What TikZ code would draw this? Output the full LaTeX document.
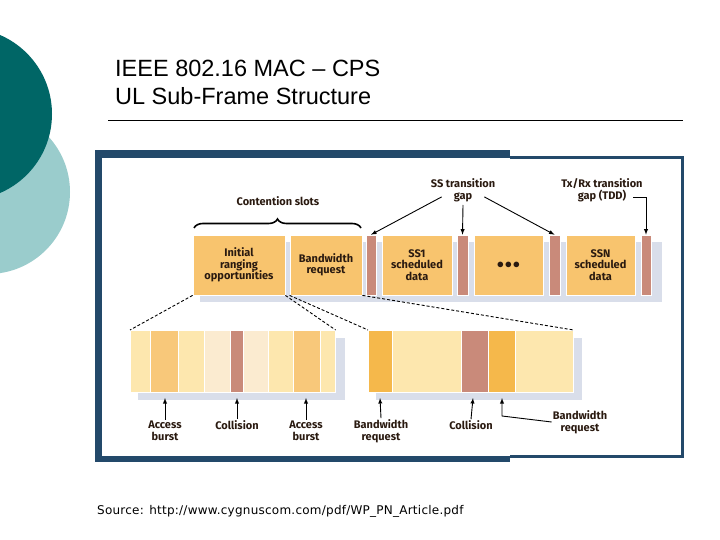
\documentclass[tikz,border=0pt]{standalone}
\usepackage{fontspec}
\setmainfont{Liberation Sans}
\newfontfamily\lab{Fira Sans}
\newfontfamily\srcf{DejaVu Sans}
\usetikzlibrary{decorations.pathreplacing}
\definecolor{frameblue}{HTML}{23496A}
\definecolor{teal1}{HTML}{006666}
\definecolor{teal2}{HTML}{9ACCCC}
\definecolor{boxor}{HTML}{F8C46E}
\definecolor{gapbr}{HTML}{C98A7A}
\definecolor{shad}{HTML}{D9DEEA}
\definecolor{lite}{HTML}{FDE7AE}
\definecolor{med}{HTML}{F8C87A}
\definecolor{pale}{HTML}{FBEBD0}
\definecolor{orng}{HTML}{F5B84B}
\definecolor{txt}{HTML}{2A1A10}
\tikzset{
  box/.style={draw=white,line width=0.8pt,fill=boxor,minimum height=60pt,inner sep=0pt,align=center,text=txt,font=\lab\bfseries\fontsize{11}{11.5}\selectfont},
  gap/.style={draw=white,line width=0.6pt,fill=gapbr,minimum height=60pt,inner sep=0pt},
  lbl/.style={font=\lab\bfseries\fontsize{11}{12}\selectfont,text=txt,align=center,inner sep=1pt},
  arr/.style={-latex,line width=0.9pt},
  dsh/.style={densely dashed,line width=0.9pt}
}
\begin{document}
\begin{tikzpicture}[x=1pt,y=-1pt]
\useasboundingbox (0,0) rectangle (720,540);
\fill[white] (0,0) rectangle (720,540);
% decorations
\fill[teal2] (-12,192) circle (82);
\fill[teal1] (-34,114) circle (86);
% title
\node[anchor=base west,font=\fontsize{23.5}{23.5}\selectfont,inner sep=0] (t1) at (115,77) {IEEE 802.16 MAC – CPS};
\node[anchor=base west,font=\fontsize{23.5}{23.5}\selectfont,inner sep=0] (t2) at (115,105) {UL Sub-Frame Structure};
\draw[line width=0.6pt] (108,120) -- (683,120);
% frame
\draw[frameblue,line width=3pt] (510,158) -- (682,158) -- (682,456) -- (510,456);
\fill[frameblue] (95,150) rectangle (510,158);
\fill[frameblue] (95,150) rectangle (102,462);
\fill[frameblue] (95,456) rectangle (510,462);
% top row shadow
\fill[shad] (200,242) rectangle (662,302);
\node[box,minimum width=92pt] (ir) at (239,265) {Initial\\ranging\\opportunities};
\node[box,minimum width=72pt] (bw) at (326,265) {Bandwidth\\request};
\node[gap,minimum width=10pt] (g1) at (371,265) {};
\node[box,minimum width=70pt] (ss1) at (417,265) {SS1\\scheduled\\data};
\node[gap,minimum width=11pt] (g2) at (462.5,265) {};
\node[box,minimum width=69pt] (dots) at (508.5,265) {\fontsize{14}{14}\selectfont$\bullet\!\bullet\!\bullet$};
\node[gap,minimum width=11pt] (g3) at (554.5,265) {};
\node[box,minimum width=69pt] (ssn) at (600.5,265) {SSN\\scheduled\\data};
\node[gap,minimum width=10pt] (g4) at (646,265) {};
% brace
\draw[decorate,decoration={brace,amplitude=9pt},line width=1.6pt] (194,228) -- (361,228);
\node[lbl] (cs) at (278,201) {Contention slots};
\node[lbl] (sstg) at (463,190) {SS transition\\gap};
\node[lbl] (txrx) at (602,190) {Tx/Rx transition\\gap (TDD)};
\draw[arr] (sstg.south west) ++(12,-6) -- (g1.north);
\draw[arr] (463,205) -- (g2.north);
\draw[arr] (sstg.south east) ++(-12,-6) -- (g3.north);
\draw[line width=0.9pt,-latex] (633,197) -- (646,197) -- (g4.north);
% bottom bars shadows
\fill[shad] (138,338) rectangle (345,400);
\fill[shad] (376,338) rectangle (582,400);
\begin{scope}[every node/.style={draw=white,line width=0.6pt,minimum height=62pt,inner sep=0pt,anchor=north west}]
\node[fill=lite,minimum width=20pt] (a1) at (130,330) {};
\node[fill=med,minimum width=28pt] (a2) at (150,330) {};
\node[fill=lite,minimum width=26pt] (a3) at (178,330) {};
\node[fill=pale,minimum width=26pt] (a4) at (204,330) {};
\node[fill=gapbr,minimum width=13pt] (a5) at (230,330) {};
\node[fill=pale,minimum width=25pt] (a6) at (243,330) {};
\node[fill=lite,minimum width=25pt] (a7) at (268,330) {};
\node[fill=med,minimum width=27pt] (a8) at (293,330) {};
\node[fill=lite,minimum width=15pt] (a9) at (320,330) {};
\node[fill=orng,minimum width=24pt] (b1) at (368,330) {};
\node[fill=lite,minimum width=69pt] (b2) at (392,330) {};
\node[fill=gapbr,minimum width=27pt] (b3) at (461,330) {};
\node[fill=orng,minimum width=27pt] (b4) at (488,330) {};
\node[fill=lite,minimum width=58pt] (b5) at (515,330) {};
\end{scope}
% dashed connectors
\draw[dsh] (ir.south west) -- (a1.north west);
\draw[dsh] (ir.south east) -- (a9.north east);
\draw[dsh] (bw.south west) -- (b1.north west);
\draw[dsh] (bw.south east) -- (b5.north east);
% labels
\node[lbl] (l1) at (165,431) {Access\\burst};
\node[lbl] (l2) at (237,425) {Collision};
\node[lbl] (l3) at (306,431) {Access\\burst};
\node[lbl] (l4) at (381,431) {Bandwidth\\request};
\node[lbl] (l5) at (471,425) {Collision};
\node[lbl] (l6) at (580,422) {Bandwidth\\request};
\draw[arr] (l1.north) -- (165,398);
\draw[arr] (l2.north) -- (237,398);
\draw[arr] (l3.north) -- (306,398);
\draw[arr] (l4.north) -- (380,398);
\draw[arr] (l5.north) -- (473,398);
\coordinate (bc) at (502,416);
\draw[arr] (l6.west) -- (bc) -- (502,398);
% source
\node[anchor=base west,font=\srcf\fontsize{12}{12}\selectfont\addfontfeature{LetterSpace=2},inner sep=0] (src) at (97,514) {Source: http://www.cygnuscom.com/pdf/WP\_PN\_Article.pdf};
\end{tikzpicture}
\end{document}
